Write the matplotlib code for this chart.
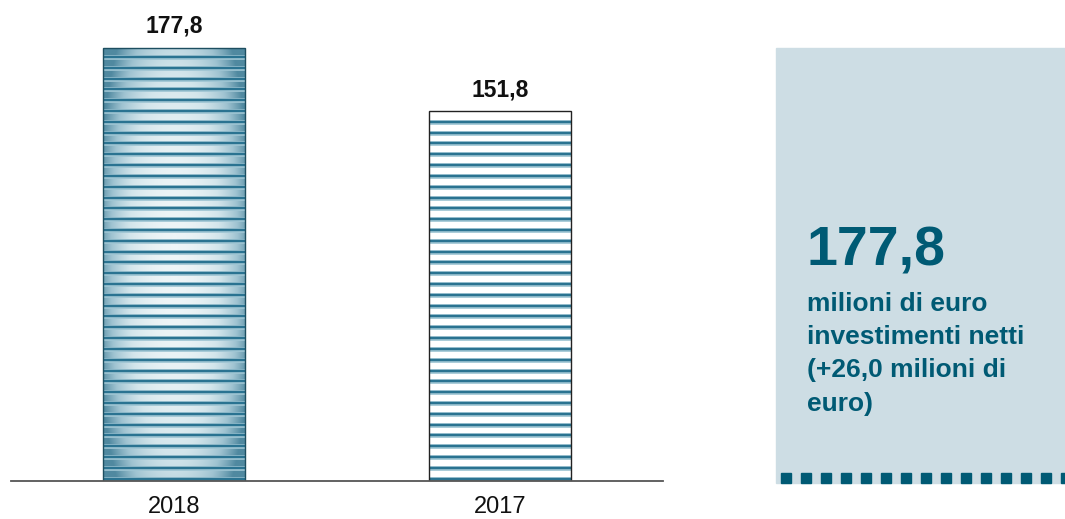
import numpy as np
import matplotlib
matplotlib.use('Agg')
import matplotlib.pyplot as plt
from matplotlib.patches import Rectangle
from matplotlib.colors import LinearSegmentedColormap

plt.rcParams['font.family'] = ['Liberation Sans', 'DejaVu Sans']

# dati
anni = ['2018', '2017']
investimenti = [177.8, 151.8]
valore_box = '177,8'
righe_box = ['milioni di euro', 'investimenti netti', '(+26,0 milioni di', 'euro)']

W, H = 1065, 519
fig = plt.figure(figsize=(W / 100, H / 100), dpi=100)
ax = fig.add_axes([11 / W, 38 / H, 652 / W, 481 / H])
ax.set_xlim(-0.5, 1.5)
ax.set_ylim(0, 197.5)

bw = 0.436
step = 4.44  # passo delle righe orizzontali (unita' dati)
dark_line = '#2a7391'
halo = '#9fc5d3'

# gradiente per la barra 2018
cmap = LinearSegmentedColormap.from_list('g', ['#eef5f7', '#d3e5eb', '#9fc3d1', '#5089a0'])
gx = np.linspace(-1, 1, 200)
gy = np.linspace(-1, 1, 300)
GX, GY = np.meshgrid(gx, gy)
grad = np.clip(0.85 * np.abs(GX) ** 2.0 + 0.45 * np.abs(GY) ** 2.5, 0, 1)

for i, v in enumerate(investimenti):
    x0 = i - bw / 2
    if i == 0:
        bar = ax.bar(i, v, width=bw, color='#dbe9ee', edgecolor='none', zorder=1)[0]
        im = ax.imshow(grad, cmap=cmap, extent=[x0, x0 + bw, 0, v], aspect='auto',
                       origin='lower', zorder=2, interpolation='bilinear')
        im.set_clip_path(bar)
        ec = '#1d4e60'
    else:
        ax.bar(i, v, width=bw, color='white', edgecolor='none', zorder=1)
        ec = '#222222'
    ys = np.arange(0.95, v - 1.5, step)
    ax.hlines(ys, x0, x0 + bw, colors=halo, linewidth=3.4, zorder=3)
    ax.hlines(ys, x0, x0 + bw, colors=dark_line, linewidth=1.7, zorder=4)
    ax.add_patch(Rectangle((x0, 0), bw, v, fill=False, edgecolor=ec, linewidth=1.0, zorder=5))
    ax.annotate(f'{v:.1f}'.replace('.', ','), (i, v), xytext=(0, 10.8),
                textcoords='offset points', ha='center', va='baseline',
                fontsize=16.5, fontweight='bold', color='#111111')

for s in ['top', 'right', 'left']:
    ax.spines[s].set_visible(False)
ax.spines['bottom'].set_color('#555555')
ax.spines['bottom'].set_linewidth(1.3)
ax.spines['bottom'].set_zorder(6)
ax.set_yticks([])
ax.set_xticks(range(len(anni)))
ax.set_xticklabels(anni, fontsize=17, color='#111111')
ax.tick_params(axis='x', length=0, pad=11)
ax.patch.set_alpha(0)

# riquadro a destra
fig.patches.append(Rectangle((776 / W, 1 - 483 / H), (W - 776) / W, 435 / H,
                             transform=fig.transFigure, color='#cddde4', zorder=0))
for k in range(15):
    fig.patches.append(Rectangle(((781 + 20 * k) / W, 1 - 483 / H), 10 / W, 10 / H,
                                 transform=fig.transFigure, color='#005a74', zorder=1))
teal = '#005a74'
fig.text(807 / W, 1 - 265 / H, valore_box, fontsize=40, fontweight='bold',
         color=teal, va='baseline', ha='left')
for j, riga in enumerate(righe_box):
    fig.text(807 / W, 1 - (310.7 + 33.3 * j) / H, riga, fontsize=19, fontweight='bold',
             color=teal, va='baseline', ha='left')

fig.savefig('out.png', dpi=100)
